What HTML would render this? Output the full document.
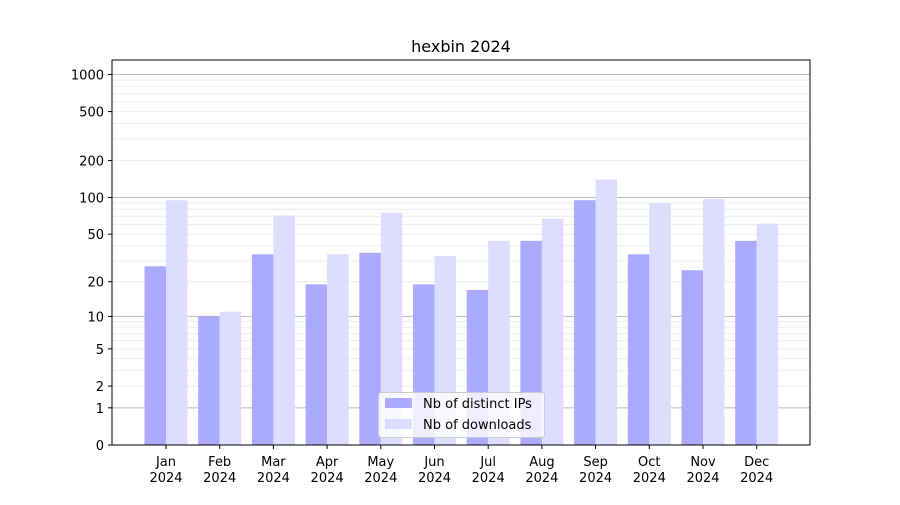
<!DOCTYPE html>
<html><head><meta charset="utf-8"><style>
body{margin:0;background:#fff;}
svg text{font-family:"DejaVu Sans","Liberation Sans",sans-serif;}
</style></head><body>
<svg id="chart" width="900" height="500" xmlns="http://www.w3.org/2000/svg">
<rect width="900" height="500" fill="#fff"/>
<text x="461" y="52" text-anchor="middle" font-size="16">hexbin 2024</text>
<g id="grid"></g>
<g id="bars"></g>
<g id="axes"></g>
<rect x="112" y="60" width="698" height="385" fill="none" stroke="#000" stroke-width="1"/>
<g>
<rect x="378.5" y="392.5" width="166" height="45" rx="3" fill="#fff" fill-opacity="0.8" stroke="#ccc"/>
<g>
<rect x="385" y="398" width="27" height="10" fill="#aaaaff"/>
<text x="423" y="408" font-size="13">Nb of distinct IPs</text></g>
<g>
<rect x="385" y="419" width="27" height="10" fill="#ddddff"/>
<text x="423" y="429" font-size="13">Nb of downloads</text></g>
</g>
</svg>
<script>
const months=["Jan","Feb","Mar","Apr","May","Jun","Jul","Aug","Sep","Oct","Nov","Dec"];
const ips=[27,10,34,19,35,19,17,44,95,34,25,44];
const downloads=[95,11,71,34,75,33,44,67,140,90,97,61];
const yTicks=[0,1,2,5,10,20,50,100,200,500,1000];
const NS="http://www.w3.org/2000/svg";
const y0=445, dec=123.5;
function y(v){return y0-dec*Math.log10(v+1);}
function x(i){return 166+i*53.7;}
const bw=21.5;
function mk(t,a,p){const e=document.createElementNS(NS,t);for(const k in a)e.setAttribute(k,a[k]);p.appendChild(e);return e;}
const grid=document.getElementById('grid'),bars=document.getElementById('bars'),axes=document.getElementById('axes');
for(let d=1;d<=1000;d*=10){for(let m=1;m<10;m++){const v=d*m;if(v>1200)break;
const l=mk('line',{x1:112,x2:810,y1:y(v),y2:y(v),stroke:m==1?'#bbb':'#eee','stroke-width':1},grid);

}}
months.forEach((m,i)=>{
const a=mk('rect',{x:x(i)-bw,y:y(ips[i]),width:bw,height:y0-y(ips[i]),fill:'#aaaaff'},bars);


const b=mk('rect',{x:x(i),y:y(downloads[i]),width:bw,height:y0-y(downloads[i]),fill:'#ddddff'},bars);


mk('line',{x1:x(i),x2:x(i),y1:445,y2:449,stroke:'#000'},axes);
const t=mk('text',{x:x(i),y:466,'text-anchor':'middle','font-size':13},axes);t.textContent=m;


const t2=mk('text',{x:x(i),y:482,'text-anchor':'middle','font-size':13},axes);t2.textContent='2024';


});
yTicks.forEach(v=>{
mk('line',{x1:108,x2:112,y1:y(v),y2:y(v),stroke:'#000'},axes);
const t=mk('text',{x:104,y:y(v)+5,'text-anchor':'end','font-size':13},axes);t.textContent=v;


});
</script>
</body></html>
